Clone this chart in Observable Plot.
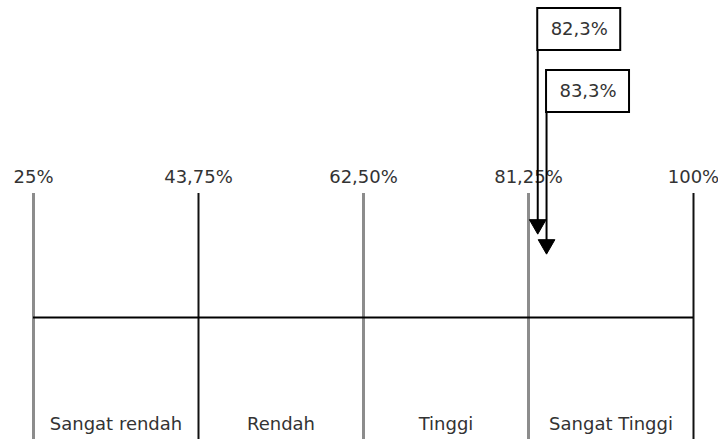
<!DOCTYPE html>
<html>
<head>
<meta charset="utf-8">
<script src="https://cdn.jsdelivr.net/npm/d3@7"></script>
<script src="https://cdn.jsdelivr.net/npm/@observablehq/plot@0.6"></script>
<style>
  html, body { margin: 0; padding: 0; background: #fff; }
  #chart svg { display: block; }
</style>
</head>
<body>
<div id="chart"></div>
<script>
// ---- data ----
const ticks = [25, 43.75, 62.5, 81.25, 100];
const tickLabels = ["25%", "43,75%", "62,50%", "81,25%", "100%"];
const categories = ["Sangat rendah", "Rendah", "Tinggi", "Sangat Tinggi"];
const markerValues = [82.3, 83.3];
const markerLabels = ["82,3%", "83,3%"];

// ---- layout (diagram units measured from the top) ----
const L = {
  tickLabel: 177, tickTop: 193, axis: 317, bottom: 439, catLabel: 424,
  boxTop: [8, 70], boxH: 42, tip: [233, 253], head: 9, boxSpan: 9.43
};
const tickStroke = ["#8c8c8c", "#111", "#8c8c8c", "#8c8c8c", "#111"];
const tickWidth = [3, 2, 3, 3, 2];
const font = {fontFamily: "DejaVu Sans", fontSize: 18, fill: "#333"};

const catRows = categories.map((c, i) => ({c, x: (ticks[i] + ticks[i + 1]) / 2}));
const markers = markerValues.map((v, i) => ({v, label: markerLabels[i], i}));

const chart = Plot.plot({
  width: 718,
  height: 439,
  marginTop: 0, marginBottom: 0, marginLeft: 33, marginRight: 25,
  x: {domain: [25, 100], axis: null},
  y: {domain: [0, 439], range: [0, 439], axis: null},
  style: {fontFamily: "DejaVu Sans", background: "#fff"},
  marks: [
    // category boundaries
    ...ticks.map((t, i) => Plot.ruleX([t], {
      y1: L.tickTop, y2: L.bottom, stroke: tickStroke[i], strokeWidth: tickWidth[i]
    })),
    // horizontal axis line
    Plot.ruleY([L.axis], {x1: ticks[0], x2: ticks[ticks.length - 1], stroke: "#000", strokeWidth: 2}),
    // tick labels
    Plot.text(ticks, {x: d => d, y: L.tickLabel, text: (d, i) => tickLabels[i], ...font}),
    // category labels
    Plot.text(catRows, {x: "x", y: L.catLabel, text: "c", ...font}),
    // marker shafts
    Plot.ruleX(markers, {
      x: "v", y1: d => L.boxTop[d.i] + L.boxH, y2: d => L.tip[d.i] - L.head,
      stroke: "#000", strokeWidth: 2
    }),
    // arrow heads
    Plot.dot(markers, {
      x: "v", y: d => L.tip[d.i] - L.head, symbol: "triangle", r: 6.2, rotate: 180,
      fill: "#000", stroke: "#000", strokeWidth: 1
    }),
    // label boxes
    Plot.rect(markers, {
      x1: "v", x2: d => d.v + L.boxSpan,
      y1: d => L.boxTop[d.i], y2: d => L.boxTop[d.i] + L.boxH,
      fill: "#fff", stroke: "#000", strokeWidth: 2
    }),
    Plot.text(markers, {
      x: d => d.v + L.boxSpan / 2, y: d => L.boxTop[d.i] + L.boxH / 2,
      text: "label", ...font
    })
  ]
});
document.getElementById("chart").append(chart);
</script>
</body>
</html>
